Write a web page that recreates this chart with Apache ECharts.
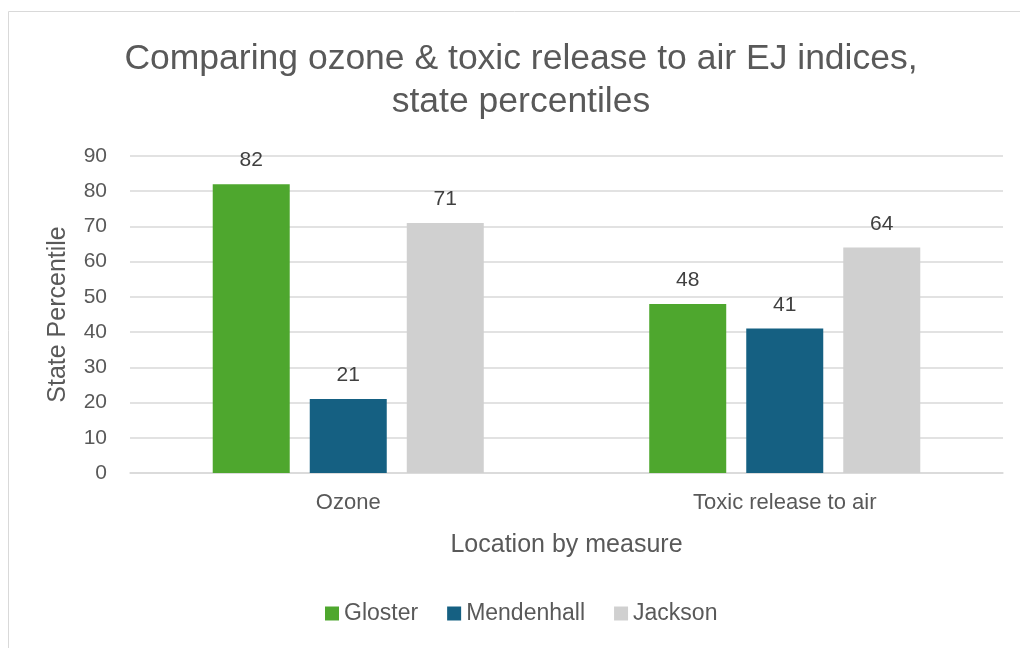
<!DOCTYPE html>
<html>
<head>
<meta charset="utf-8">
<style>
  html, body { margin: 0; padding: 0; background: #ffffff; }
  #chart { width: 1020px; height: 648px; }
</style>
<script src="https://cdn.jsdelivr.net/npm/echarts@6/dist/echarts.min.js"></script>
</head>
<body>
<div id="chart"></div>
<script>
// Categories and percentile values for each location
const measures = ['Ozone', 'Toxic release to air'];
const gloster = [82, 48];
const mendenhall = [21, 41];
const jackson = [71, 64];
const seriesNames = ['Gloster', 'Mendenhall', 'Jackson'];

const FONT = '"Liberation Sans", "Noto Sans", sans-serif';
const TEXT = '#595959';

const chart = echarts.init(document.getElementById('chart'), null, { renderer: 'canvas' });

function barSeries(name, data, color) {
  return {
    name: name,
    type: 'bar',
    data: data,
    barWidth: 77,
    barGap: '26%',
    itemStyle: { color: color },
    label: {
      show: true,
      position: 'top',
      distance: 13,
      color: '#404040',
      fontSize: 21,
      fontFamily: FONT
    }
  };
}

chart.setOption({
  animation: false,
  textStyle: { fontFamily: FONT },
  graphic: [{
    type: 'rect',
    shape: { x: 8.5, y: 11.5, width: 1100, height: 700 },
    style: { fill: 'none', stroke: '#d9d9d9', lineWidth: 1 },
    silent: true,
    z: -10
  }],
  title: {
    text: 'Comparing ozone & toxic release to air EJ indices,\nstate percentiles',
    left: 516,
    textAlign: 'center',
    top: 33,
    textStyle: {
      color: TEXT,
      fontSize: 35.5,
      fontWeight: 'normal',
      fontFamily: FONT,
      lineHeight: 43
    }
  },
  legend: {
    data: seriesNames,
    top: 597,
    left: 320,
    icon: 'rect',
    itemWidth: 14,
    itemHeight: 14,
    itemGap: 29,
    textStyle: { color: TEXT, fontSize: 23, fontFamily: FONT }
  },
  grid: { left: 130, right: 17, top: 156, bottom: 175 },
  xAxis: {
    type: 'category',
    data: measures,
    name: 'Location by measure',
    nameLocation: 'middle',
    nameGap: 60,
    nameTextStyle: { color: TEXT, fontSize: 25, fontFamily: FONT },
    axisLine: { lineStyle: { color: '#d9d9d9', width: 1.5 } },
    axisTick: { show: false },
    axisLabel: { color: TEXT, fontSize: 22, margin: 19, fontFamily: FONT }
  },
  yAxis: {
    type: 'value',
    min: 0,
    max: 90,
    interval: 10,
    name: 'State Percentile',
    nameLocation: 'middle',
    nameGap: 59,
    nameRotate: 90,
    nameTextStyle: { color: TEXT, fontSize: 25, fontFamily: FONT },
    axisLine: { show: false },
    axisTick: { show: false },
    axisLabel: { color: TEXT, fontSize: 21, margin: 23, fontFamily: FONT },
    splitLine: { lineStyle: { color: '#d9d9d9', width: 1.5 } }
  },
  series: [
    barSeries(seriesNames[0], gloster, '#4ea72e'),
    barSeries(seriesNames[1], mendenhall, '#156082'),
    barSeries(seriesNames[2], jackson, '#d0d0d0')
  ]
});
</script>
</body>
</html>
